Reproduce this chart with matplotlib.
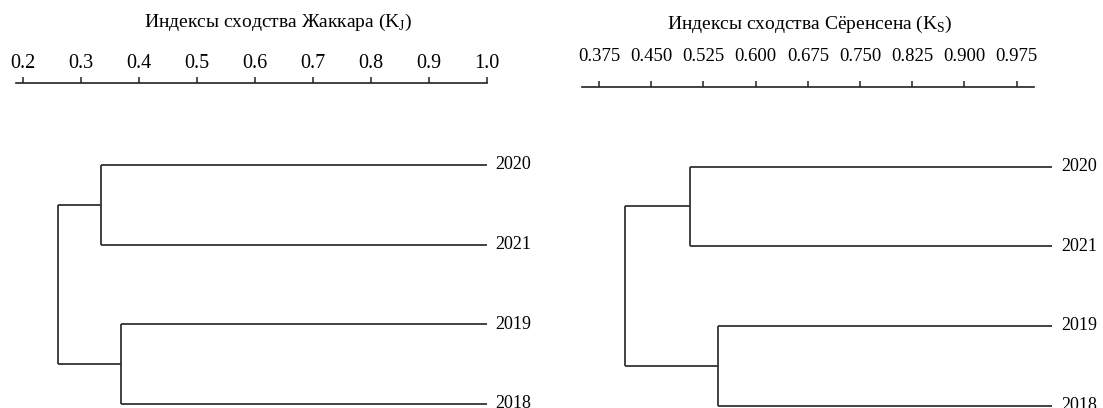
import matplotlib
matplotlib.use('Agg')
import matplotlib.pyplot as plt

plt.rcParams['font.family'] = ['Liberation Serif', 'DejaVu Serif']
plt.rcParams['mathtext.fontset'] = 'custom'
plt.rcParams['mathtext.rm'] = 'Liberation Serif'

# years, top to bottom in the tree
years = ['2020', '2021', '2019', '2018']

# Jaccard: join heights (2020+2021, 2019+2018, root), leaf end
jaccard_joins = [0.334, 0.369, 0.2605]
jaccard_leaf = 1.0
jaccard_ticks = [0.2, 0.3, 0.4, 0.5, 0.6, 0.7, 0.8, 0.9, 1.0]
jaccard_labels = ['0.2', '0.3', '0.4', '0.5', '0.6', '0.7', '0.8', '0.9', '1.0']

# Sorensen
sorensen_joins = [0.506, 0.546, 0.412]
sorensen_leaf = 1.026
sorensen_ticks = [0.375, 0.450, 0.525, 0.600, 0.675, 0.750, 0.825, 0.900, 0.975]
sorensen_labels = ['0.375', '0.450', '0.525', '0.600', '0.675', '0.750', '0.825', '0.900', '0.975']

W, H = 1103, 408
fig = plt.figure(figsize=(W / 100, H / 100), dpi=100)


def draw_tree(ax, joins, leaf_end):
    h1, h2, h3 = joins
    ypos = [3, 2, 1, 0]
    kw = dict(color='#333333', lw=1.3, clip_on=False, solid_capstyle='butt')
    # upper cluster
    for y in ypos[:2]:
        ax.plot([h1, leaf_end], [y, y], **kw)
    ax.plot([h1, h1], [ypos[1], ypos[0]], **kw)
    # lower cluster
    for y in ypos[2:]:
        ax.plot([h2, leaf_end], [y, y], **kw)
    ax.plot([h2, h2], [ypos[3], ypos[2]], **kw)
    # root
    ya = (ypos[0] + ypos[1]) / 2
    yb = (ypos[2] + ypos[3]) / 2
    ax.plot([h3, h1], [ya, ya], **kw)
    ax.plot([h3, h2], [yb, yb], **kw)
    ax.plot([h3, h3], [yb, ya], **kw)
    return ypos


def setup_axis(ax, xlim, ticks, labels, top_px, bottom_px, leaf_px, fs, pad):
    ax.set_xlim(*xlim)
    ax.set_ylim(0, (bottom_px - top_px) / leaf_px)
    for s in ['left', 'right', 'bottom']:
        ax.spines[s].set_visible(False)
    ax.spines['top'].set_linewidth(1.2)
    ax.spines['top'].set_color('#222222')
    ax.xaxis.tick_top()
    ax.set_xticks(ticks)
    ax.set_xticklabels(labels, fontsize=fs)
    ax.tick_params(axis='x', direction='out', length=4.5, width=1.1, pad=pad, color='#222222')
    ax.set_yticks([])
    ax.patch.set_alpha(0)


# left panel
axL = fig.add_axes([16 / W, 1 - 404 / H, 470.7 / W, (404 - 83) / H])
setup_axis(axL, (0.1874, 1.0), jaccard_ticks, jaccard_labels, 83, 404, 79.7, 14.5, 2.7)
yp = draw_tree(axL, jaccard_joins, jaccard_leaf)
for y, lab in zip(yp, years):
    axL.annotate(lab, (jaccard_leaf, y), xytext=(6.3, 0), textcoords='offset points',
                 va='center', ha='left', fontsize=13, annotation_clip=False)

# right panel
axR = fig.add_axes([581.7 / W, 1 - 405.7 / H, 452.3 / W, (405.7 - 87) / H])
setup_axis(axR, (0.35, 1.0), sorensen_ticks, sorensen_labels, 87, 405.7, 79.7, 13.5, 11.3)
yp = draw_tree(axR, sorensen_joins, sorensen_leaf)
for y, lab in zip(yp, years):
    axR.annotate(lab, (sorensen_leaf, y), xytext=(6.3, 0), textcoords='offset points',
                 va='center', ha='left', fontsize=13, annotation_clip=False)

fig.text(278.5 / W, 1 - 22 / H, r'Индексы сходства Жаккара (K$_{\rm J}$)',
         ha='center', va='center', fontsize=14)
fig.text(810 / W, 1 - 24 / H, r'Индексы сходства Сёренсена (K$_{\rm S}$)',
         ha='center', va='center', fontsize=14)

fig.savefig('out.png', dpi=100, facecolor='white')
